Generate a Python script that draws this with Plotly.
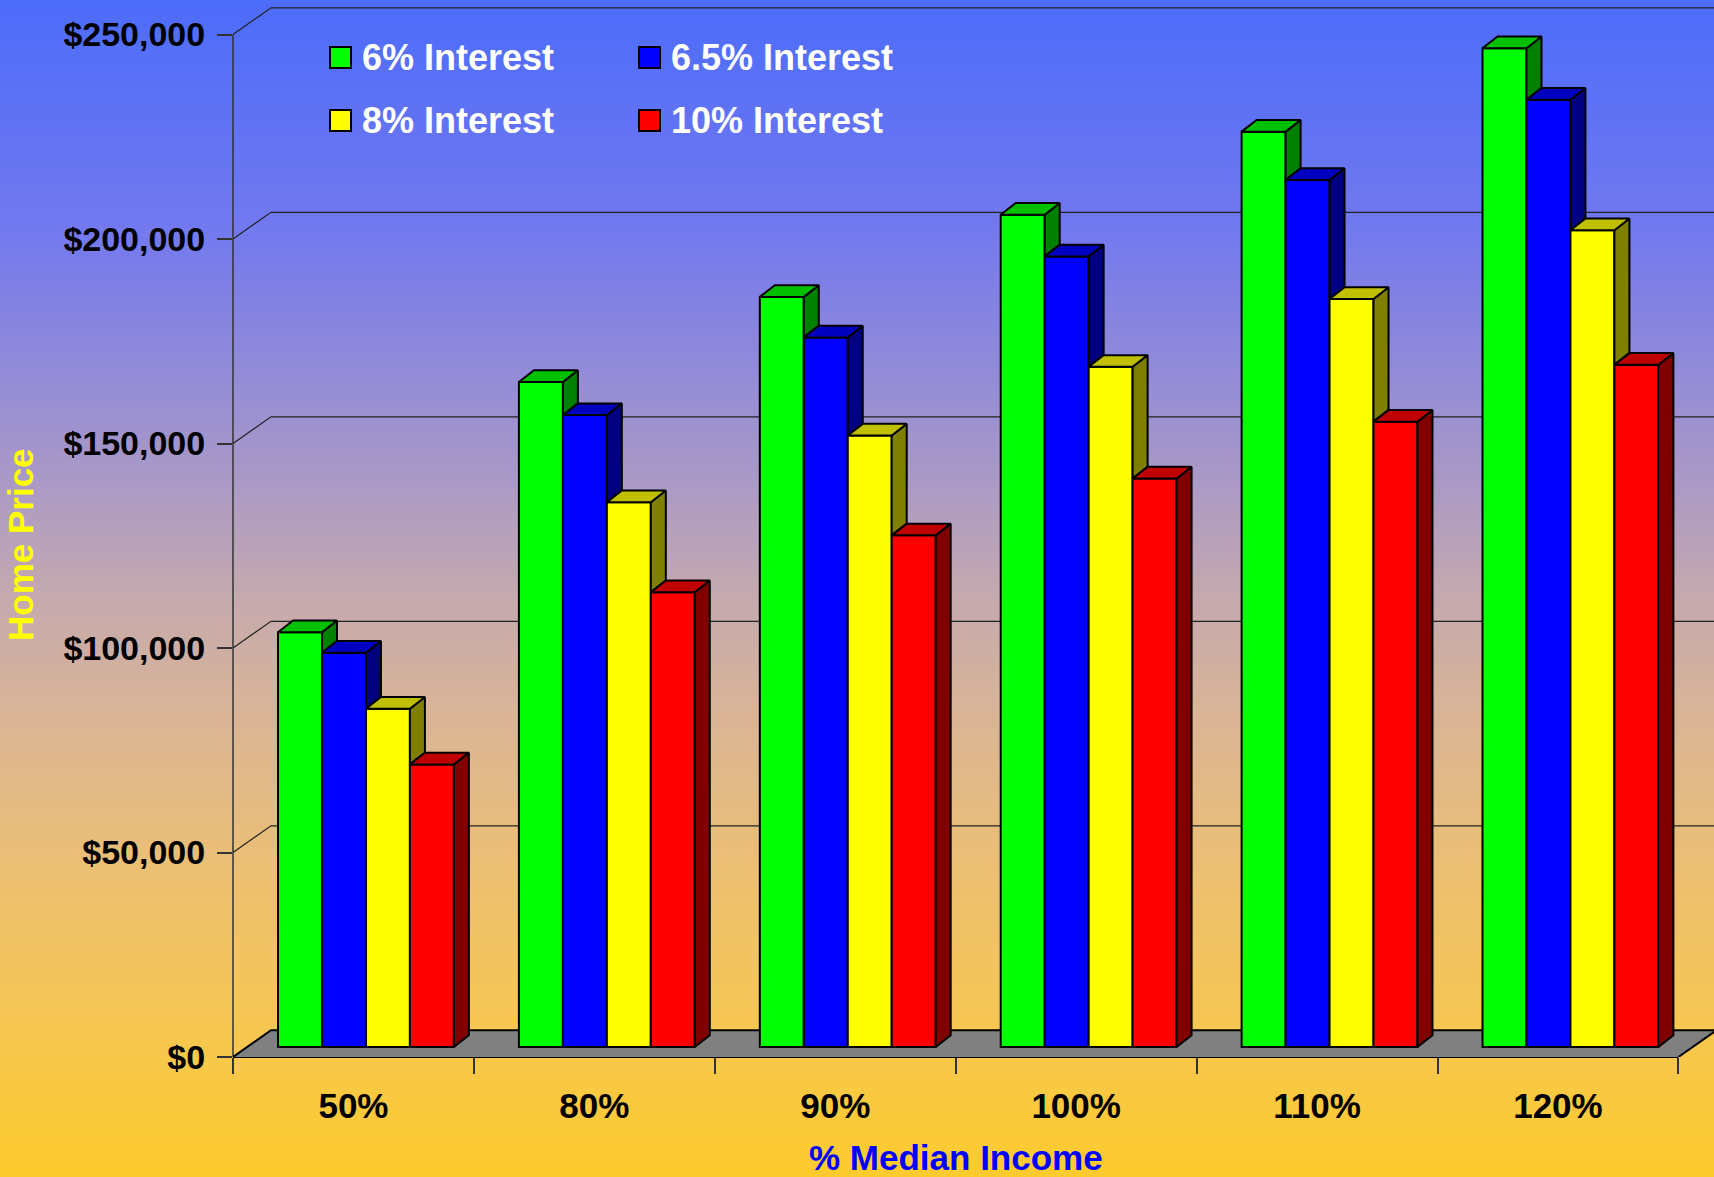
import base64
import struct
import zlib

import numpy as np
import plotly.graph_objects as go

# ---- data -------------------------------------------------------------
categories = ["50%", "80%", "90%", "100%", "110%", "120%"]
series_names = ["6% Interest", "6.5% Interest", "8% Interest", "10% Interest"]
price_6 = [101400, 162600, 183400, 203500, 223800, 244200]
price_6_5 = [96400, 154500, 173500, 193300, 212000, 231600]
price_8 = [82700, 133200, 149500, 166300, 182900, 199700]
price_10 = [69100, 111200, 125100, 139000, 152900, 166800]
y_tick_values = [0, 50000, 100000, 150000, 200000, 250000]
y_tick_labels = ["$0", "$50,000", "$100,000", "$150,000", "$200,000", "$250,000"]

series_values = [price_6, price_6_5, price_8, price_10]
front_colors = ["#00FF00", "#0000FF", "#FFFF00", "#FF0000"]
top_colors = ["#00C000", "#0000C0", "#C0C000", "#C00000"]
side_colors = ["#008000", "#000080", "#808000", "#800000"]

# ---- geometry of the pseudo-3D frame ------------------------------------
W, H = 1714, 1177
M_L, M_B = 233, 120
PLOT_W, PLOT_H = W - M_L, H - M_B
PX_CAT = 240.9            # pixels per category
PX_VAL = 4.09 / 1000.0    # pixels per dollar

X0 = -0.5
X1 = X0 + PLOT_W / PX_CAT
Y1 = PLOT_H / PX_VAL

def dx(px):
    return px / PX_CAT

def dy(px):
    return px / PX_VAL

FLOOR_DX, FLOOR_DY = dx(38), dy(26.7)   # depth of floor / back wall offset
BAR_SX, BAR_SB = dx(12.5), dy(10)       # front face of bars sits inside the floor
BAR_DX, BAR_DY = dx(15), dy(11.7)       # depth of each bar
GROUP_W = 0.73
BAR_W = GROUP_W / len(series_values)

n_cat = len(categories)
FONT = "Liberation Sans, Arial, sans-serif"

fig = go.Figure()

# front faces
for j, (name, vals) in enumerate(zip(series_names, series_values)):
    fig.add_trace(go.Bar(
        x=[i + BAR_SX for i in range(n_cat)],
        y=vals,
        base=[BAR_SB] * n_cat,
        offset=-GROUP_W / 2 + j * BAR_W,
        width=BAR_W,
        name=name,
        marker=dict(color=front_colors[j], line=dict(color="black", width=2)),
        hovertemplate=name + "<br>%{customdata}: $%{y:,.0f}<extra></extra>",
        customdata=categories,
        showlegend=False,
    ))

# top and side faces, computed from the same values
for j, vals in enumerate(series_values):
    side_x, side_y, top_x, top_y = [], [], [], []
    for i in range(n_cat):
        left = i + BAR_SX - GROUP_W / 2 + j * BAR_W
        right = left + BAR_W
        top = BAR_SB + vals[i]
        if j < len(series_values) - 1:
            low = BAR_SB + series_values[j + 1][i]
        else:
            low = BAR_SB
        if low < top:
            side_x += [right, right, right + BAR_DX, right + BAR_DX, right, None]
            side_y += [low, top, top + BAR_DY, low + BAR_DY, low, None]
        top_x += [left, right, right + BAR_DX, left + BAR_DX, left, None]
        top_y += [top, top, top + BAR_DY, top + BAR_DY, top, None]
    fig.add_trace(go.Scatter(
        x=side_x, y=side_y, mode="lines", fill="toself",
        fillcolor=side_colors[j], line=dict(color="black", width=2),
        hoverinfo="skip", showlegend=False,
    ))
    fig.add_trace(go.Scatter(
        x=top_x, y=top_y, mode="lines", fill="toself",
        fillcolor=top_colors[j], line=dict(color="black", width=2),
        hoverinfo="skip", showlegend=False,
    ))

# ---- floor, back wall and axis line ----------------------------------------
shapes = []
x_end = X0 + n_cat
shapes.append(dict(
    type="path", xref="x", yref="y", layer="below",
    path=f"M{X0},0 L{x_end},0 L{x_end + FLOOR_DX},{FLOOR_DY} L{X0 + FLOOR_DX},{FLOOR_DY} Z",
    fillcolor="#808080", line=dict(width=0),
))
for v in y_tick_values:
    lw = 2 if v == 0 else 1.2
    col = "black" if v == 0 else "#222222"
    shapes.append(dict(
        type="path", xref="x", yref="y", layer="below",
        path=f"M{X0},{v} L{X0 + FLOOR_DX},{v + FLOOR_DY} L{X1 + 1},{v + FLOOR_DY}",
        line=dict(color=col, width=lw),
    ))
shapes.append(dict(
    type="line", xref="x", yref="paper", layer="below",
    x0=X0, x1=x_end, y0=0, y1=0, line=dict(color="black", width=2),
))
shapes.append(dict(
    type="line", xref="x", yref="y", layer="below",
    x0=x_end, x1=x_end + FLOOR_DX, y0=0, y1=FLOOR_DY, line=dict(color="black", width=2),
))
shapes.append(dict(
    type="line", xref="paper", yref="y", layer="below",
    x0=0, x1=0, y0=0, y1=y_tick_values[-1], line=dict(color="#333333", width=1.5),
))

# ---- legend drawn as swatches + labels ---------------------------------
def px_x(px):
    return (px - M_L) / PLOT_W

def px_y(py):
    return (PLOT_H - py) / PLOT_H

annotations = []
legend_cols = [330, 639]
legend_rows = [47, 110]
for k, name in enumerate(series_names):
    cx = legend_cols[k % 2]
    cy = legend_rows[k // 2]
    shapes.append(dict(
        type="rect", xref="paper", yref="paper", layer="above",
        x0=px_x(cx), x1=px_x(cx + 21), y0=px_y(cy), y1=px_y(cy + 21),
        fillcolor=front_colors[k], line=dict(color="black", width=2),
    ))
    annotations.append(dict(
        xref="paper", yref="paper", x=px_x(cx + 30), y=px_y(cy + 10.5),
        xanchor="left", yanchor="middle", showarrow=False, text=name,
        font=dict(family=FONT, size=36, color="white", weight="bold"),
    ))

annotations.append(dict(
    xref="paper", yref="paper", x=px_x(20), y=px_y(545),
    xanchor="center", yanchor="middle", showarrow=False, textangle=-90,
    text="Home Price",
    font=dict(family=FONT, size=35, color="#FFFF00", weight="bold"),
))
annotations.append(dict(
    xref="paper", yref="paper", x=px_x(956), y=px_y(1157),
    xanchor="center", yanchor="middle", showarrow=False,
    text="% Median Income",
    font=dict(family=FONT, size=35, color="#0000FF", weight="bold"),
))

# ---- gradient backdrop (blue sky to gold) -------------------------------
stops = [
    (0.00, (76, 108, 250)),
    (0.20, (116, 121, 238)),
    (0.40, (168, 152, 200)),
    (0.50, (195, 168, 176)),
    (0.60, (216, 180, 152)),
    (0.75, (237, 192, 112)),
    (0.90, (248, 200, 74)),
    (1.00, (253, 203, 44)),
]
t = np.linspace(0, 1, H)
pos = [s[0] for s in stops]
rgb = np.stack([np.interp(t, pos, [s[1][c] for s in stops]) for c in range(3)], axis=1)
rgb = np.clip(np.round(rgb), 0, 255).astype(np.uint8)


def png_column(pixels):
    raw = b"".join(b"\x00" + bytes(p.tolist()) for p in pixels)

    def chunk(tag, data):
        return (struct.pack(">I", len(data)) + tag + data
                + struct.pack(">I", zlib.crc32(tag + data) & 0xFFFFFFFF))

    ihdr = struct.pack(">IIBBBBB", 1, len(pixels), 8, 2, 0, 0, 0)
    return (b"\x89PNG\r\n\x1a\n" + chunk(b"IHDR", ihdr)
            + chunk(b"IDAT", zlib.compress(raw, 9)) + chunk(b"IEND", b""))


bg_src = "data:image/png;base64," + base64.b64encode(png_column(rgb)).decode()

fig.update_layout(
    width=W, height=H, autosize=False,
    margin=dict(l=M_L, r=0, t=0, b=M_B, pad=0),
    paper_bgcolor="#FDCB2C",
    plot_bgcolor="rgba(0,0,0,0)",
    barmode="overlay",
    showlegend=False,
    shapes=shapes,
    annotations=annotations,
    images=[dict(
        source=bg_src, xref="paper", yref="paper",
        x=px_x(0), y=px_y(0), sizex=W / PLOT_W, sizey=H / PLOT_H,
        xanchor="left", yanchor="top", sizing="stretch", layer="below",
    )],
    xaxis=dict(
        range=[X0, X1], showgrid=False, zeroline=False, showline=False,
        tickmode="array", tickvals=list(range(n_cat)), ticktext=categories,
        ticks="", ticklabelstandoff=25,
        tickfont=dict(family=FONT, size=35, color="black", weight="bold"),
        minor=dict(tickmode="array", tickvals=[X0 + k for k in range(n_cat + 1)],
                   ticks="outside", ticklen=16, tickwidth=1.5, tickcolor="#333333",
                   showgrid=False),
        fixedrange=True,
    ),
    yaxis=dict(
        range=[0, Y1], showgrid=False, zeroline=False, showline=False,
        tickmode="array", tickvals=y_tick_values, ticktext=y_tick_labels,
        ticks="outside", ticklen=15, tickwidth=1.5, tickcolor="#333333",
        ticklabelstandoff=5,
        tickfont=dict(family=FONT, size=34, color="black", weight="bold"),
        fixedrange=True,
    ),
)

fig.write_html("out.html")
